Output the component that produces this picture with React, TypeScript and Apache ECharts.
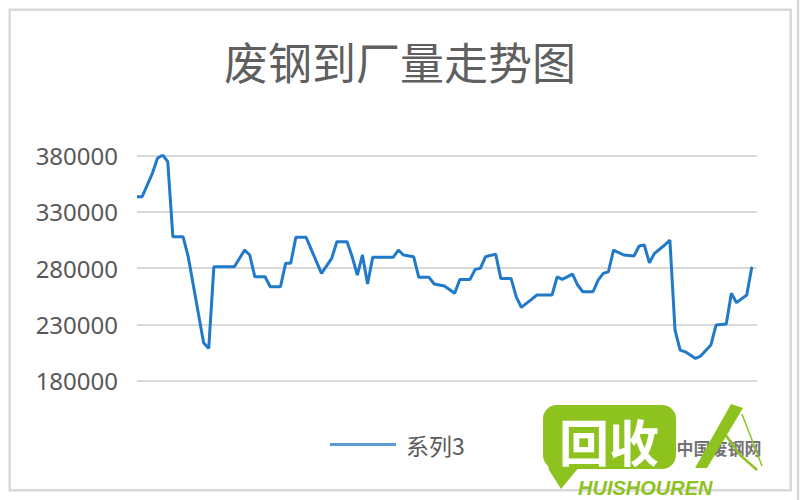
import React, { useEffect, useRef } from "react";
import * as echarts from "echarts";

const title = "废钢到厂量走势图";
const seriesName = "系列3";
const yTicks = [180000, 230000, 280000, 330000, 380000];
// week index of each turning point of the line
const weeks = [0, 1, 3, 4, 5, 6, 7, 9, 10, 13, 14, 15, 19, 21, 22, 23, 25, 26, 28, 29, 30, 31, 33, 36, 38, 39, 41, 42, 43, 44, 45, 46, 50, 51, 52, 54, 55, 57, 58, 60, 62, 63, 65, 66, 67, 68, 70, 71, 73, 74, 75, 77, 78, 81, 82, 83, 85, 86, 87, 89, 90, 91, 92, 93, 95, 97, 98, 99, 100, 101, 103, 104, 105, 106, 107, 109, 110, 112, 113, 115, 116, 117, 119, 120];
const values = [343500, 343500, 364300, 377700, 380600, 374700, 307900, 307900, 290100, 213600, 208600, 281200, 281200, 296100, 291700, 272300, 272300, 263500, 263500, 284300, 284300, 307400, 307400, 275400, 288700, 303500, 303500, 290100, 273900, 291700, 265900, 289600, 289600, 296100, 291700, 290100, 271800, 271800, 265900, 264100, 257600, 270000, 270000, 278900, 279800, 290100, 292500, 270900, 270900, 254600, 245100, 252200, 256100, 256100, 272300, 270000, 274700, 265000, 259000, 259000, 269400, 275400, 276800, 296100, 291700, 290800, 299700, 300600, 284800, 293200, 300600, 305000, 224900, 207100, 205600, 199700, 201800, 211600, 229400, 230300, 257600, 249300, 256100, 281200];

export default function App() {
  const ref = useRef<HTMLDivElement>(null);
  useEffect(() => {
    if (!ref.current) return;
    const chart = echarts.init(ref.current, null, { renderer: "svg" });
    const green = "#8dc21f";
    chart.setOption({
      animation: false,
      backgroundColor: "#ffffff",
      title: {
        text: title,
        left: "center",
        top: 34,
        textStyle: {
          fontFamily: "Noto Sans CJK SC",
          fontSize: 44,
          fontWeight: "normal",
          color: "#5f5f5f",
        },
      },
      legend: {
        left: 325,
        top: 428,
        icon: "rect",
        itemWidth: 66,
        itemHeight: 3,
        itemStyle: { color: "#5b9bd5" },
        textStyle: {
          fontFamily: "Noto Sans CJK SC",
          fontSize: 23,
          color: "#595959",
          padding: [0, 0, 0, 5],
        },
        data: [seriesName],
      },
      grid: { left: 137, right: 43, top: 155.7, bottom: 119.4, containLabel: false },
      xAxis: {
        type: "value",
        min: 0,
        max: 121,
        show: false,
      },
      yAxis: {
        type: "value",
        min: yTicks[0],
        max: yTicks[yTicks.length - 1],
        interval: yTicks[1] - yTicks[0],
        axisLine: { show: false },
        axisTick: { show: false },
        axisLabel: {
          margin: 19,
          fontFamily: "Noto Sans",
          fontSize: 24,
          color: "#595959",
          formatter: (v: number) => String(v),
        },
        splitLine: { lineStyle: { color: "#d9d9d9", width: 2 } },
      },
      series: [
        {
          name: seriesName,
          type: "line",
          symbol: "none",
          lineStyle: { color: "#2179c9", width: 3 },
          itemStyle: { color: "#2179c9" },
          data: weeks.map((w, i) => [w, values[i]]),
        },
      ],
      graphic: [
        {
          type: "rect",
          shape: { x: 9.7, y: 9.7, width: 781, height: 480.5 },
          style: { fill: "none", stroke: "#d9d9d9", lineWidth: 2.5 },
          silent: true,
        },
        {
          type: "line",
          shape: { x1: 798, y1: 0, x2: 798, y2: 500 },
          style: { stroke: "#d9d9d9", lineWidth: 2.5 },
          silent: true,
        },
        {
          type: "polygon",
          shape: { points: [[544, 445], [549, 470], [561, 489], [580, 466]] },
          style: { fill: green },
          silent: true,
        },
        {
          type: "rect",
          shape: { x: 543, y: 405, width: 133, height: 64, r: 14 },
          style: { fill: green },
          silent: true,
        },
        {
          type: "text",
          x: 609,
          y: 440,
          style: {
            text: "回收",
            fontFamily: "Noto Sans CJK SC",
            fontSize: 50,
            fontWeight: "bold",
            fill: "#ffffff",
            align: "center",
            verticalAlign: "middle",
          },
          silent: true,
        },
        {
          type: "text",
          x: 578,
          y: 488,
          style: {
            text: "HUISHOUREN",
            fontFamily: "Liberation Sans",
            fontSize: 20,
            fontWeight: "bold",
            fontStyle: "italic",
            fill: green,
            align: "left",
            verticalAlign: "middle",
          },
          silent: true,
        },
        {
          type: "text",
          x: 719,
          y: 447,
          style: {
            text: "中国废钢网",
            fontFamily: "Noto Sans CJK SC",
            fontSize: 17,
            fontWeight: "bold",
            fill: "#444444",
            opacity: 0.75,
            align: "center",
            verticalAlign: "middle",
          },
          silent: true,
        },
        {
          type: "polygon",
          shape: { points: [[695, 468], [731, 404], [743, 408], [707, 468]] },
          style: { fill: green },
          silent: true,
        },
        {
          type: "polyline",
          shape: { points: [[722, 430], [740, 455], [757, 470]] },
          style: { stroke: green, lineWidth: 2.5, fill: "none" },
          silent: true,
        },
        {
          type: "polyline",
          shape: { points: [[742, 414], [752, 440], [762, 466]] },
          style: { stroke: green, lineWidth: 1.5, fill: "none" },
          silent: true,
        },
      ],
    });
    return () => chart.dispose();
  }, []);
  return (
    <div
      ref={ref}
      style={{ position: "fixed", left: 0, top: 0, width: 800, height: 500 }}
    />
  );
}
